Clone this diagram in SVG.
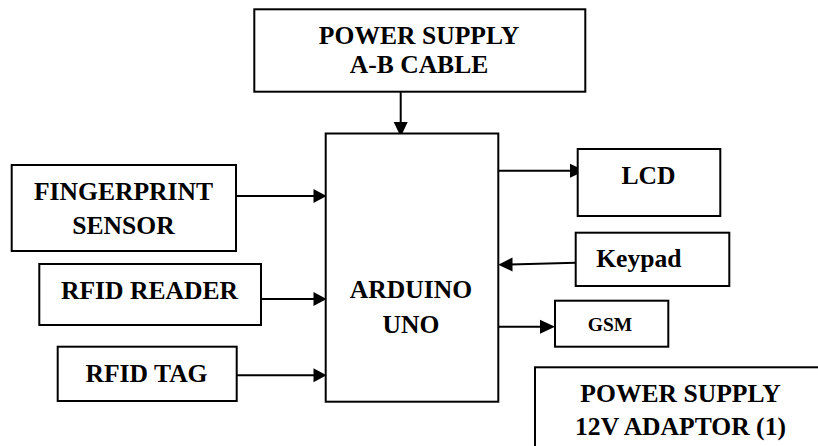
<svg xmlns="http://www.w3.org/2000/svg" width="818" height="446" viewBox="0 0 818 446">
<style>
.box{fill:#fff;stroke:#000;stroke-width:2}
.lbl{font-family:'Liberation Serif','Times New Roman','DejaVu Serif',serif;font-weight:bold;font-size:25.6px;fill:#000;text-anchor:middle}
.sm{font-size:19.5px}
.wire{stroke:#000;stroke-width:2;fill:none}
.head{fill:#000;stroke:none}
</style>
<rect width="818" height="446" fill="#fff"/>
<g id="connectors">
<line class="wire" x1="400.7" y1="92" x2="400.7" y2="124"/>
<polygon class="head" points="400.7,136.7 393.7,122 407.7,122"/>
<line class="wire" x1="236" y1="196" x2="315" y2="196"/>
<polygon class="head" points="326.5,196 313.5,189 313.5,203"/>
<line class="wire" x1="261" y1="299" x2="315" y2="299"/>
<polygon class="head" points="326.5,299 313.5,292 313.5,306"/>
<line class="wire" x1="236.7" y1="375.3" x2="315" y2="375.3"/>
<polygon class="head" points="326.5,375.3 313.5,368.3 313.5,382.3"/>
<line class="wire" x1="498.3" y1="170.7" x2="572" y2="170.7"/>
<polygon class="head" points="585,170.7 570,163.7 570,177.7"/>
<line class="wire" x1="575.7" y1="262.7" x2="510" y2="264.4"/>
<polygon class="head" points="498.3,264.7 512.5,257.5 512.5,271.5"/>
<line class="wire" x1="498.3" y1="326.7" x2="542" y2="326.7"/>
<polygon class="head" points="555,326.7 540,319.7 540,333.7"/>
</g>
<g id="ps-ab">
<rect class="box" x="254.3" y="9.3" width="331" height="82.4"/>
<text class="lbl" font-family="Liberation Serif, serif" x="419" y="44.3">POWER SUPPLY</text>
<text class="lbl" font-family="Liberation Serif, serif" x="419" y="73.3">A-B CABLE</text>
</g>
<g id="fingerprint">
<rect class="box" x="11.7" y="165" width="224.3" height="86"/>
<text class="lbl" x="123.5" y="200">FINGERPRINT</text>
<text class="lbl" x="123.5" y="234">SENSOR</text>
</g>
<g id="rfid-reader">
<rect class="box" x="39.3" y="264" width="221.7" height="61"/>
<text class="lbl" x="149.5" y="299">RFID READER</text>
</g>
<g id="rfid-tag">
<rect class="box" x="57.7" y="346.7" width="179" height="54.3"/>
<text class="lbl" x="146.5" y="381.7">RFID TAG</text>
</g>
<g id="arduino">
<rect class="box" x="325.7" y="133.5" width="172.6" height="268.2"/>
<text class="lbl" x="411" y="298.3">ARDUINO</text>
<text class="lbl" x="411" y="332.7">UNO</text>
</g>
<g id="lcd">
<rect class="box" x="577.7" y="149" width="142.6" height="67"/>
<text class="lbl" x="648.5" y="184">LCD</text>
</g>
<g id="keypad">
<rect class="box" x="575.7" y="232.7" width="153.6" height="53.3"/>
<text class="lbl" x="638.8" y="267">Keypad</text>
</g>
<g id="gsm">
<rect class="box" x="555" y="300.7" width="113.3" height="46"/>
<text class="lbl sm" x="610" y="331">GSM</text>
</g>
<g id="ps-12v">
<rect class="box" x="535" y="367.3" width="300" height="100"/>
<text class="lbl" x="680.5" y="401.7">POWER SUPPLY</text>
<text class="lbl" x="680.5" y="435">12V ADAPTOR (1)</text>
</g>
</svg>
